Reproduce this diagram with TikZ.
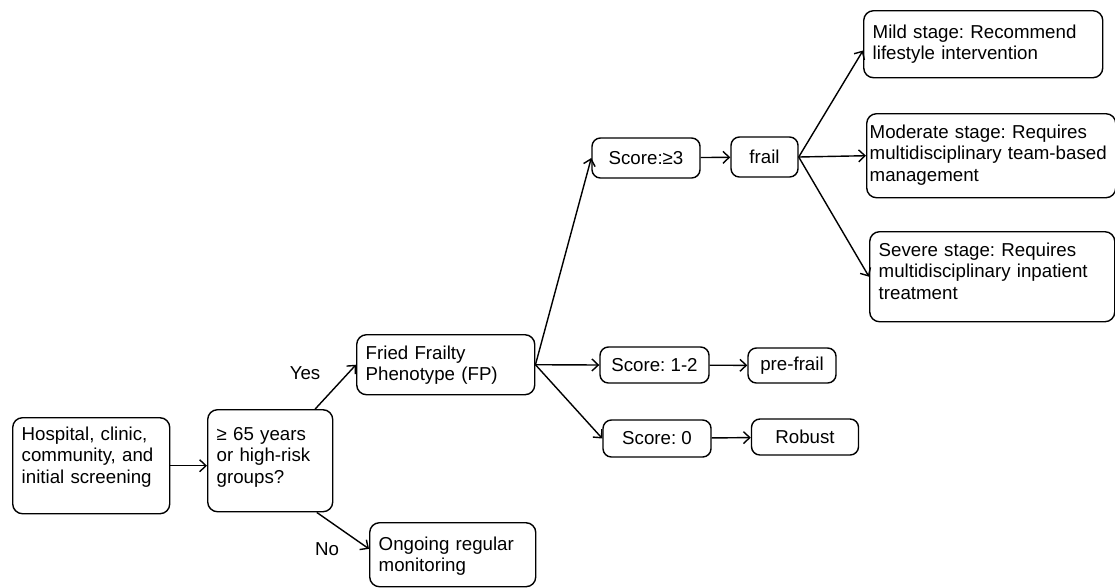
\documentclass[tikz,border=0pt]{standalone}
\usepackage{fontspec}
\setmainfont{Liberation Sans}
\usetikzlibrary{arrows.meta}
\frenchspacing
\begin{document}
\begin{tikzpicture}[x=0.025cm, y=-0.025cm, line width=1pt, >={Straight Barb[length=4.5pt,width=8.5pt]}, font=\fontsize{13.3pt}{15.4pt}\selectfont,
text box/.style={draw, rounded corners=7pt, anchor=north west, align=left, inner xsep=0.225cm, inner ysep=0pt},
score box/.style={draw, rounded corners=6pt, inner sep=0pt}]%
\useasboundingbox (0,0) rectangle (1115,587);
\begin{scope}
\node[text box, text width=3.475cm, text height=0.5625cm, text depth=1.8375cm] (screen) at (12,417) {Hospital, clinic,\\community, and\\initial screening};
\node[text box, text width=2.675cm, text height=0.7625cm, text depth=1.7875cm] (age) at (207,409) {≥ 65 years\\or high-risk\\groups?};
\node[text box, text width=4.0cm, text height=0.6125cm, text depth=0.8875cm] (fp) at (356,334) {Fried Frailty\\Phenotype (FP)};
\node[text box, text width=3.7cm, text height=0.6875cm, text depth=0.9125cm] (mon) at (369,522) {Ongoing regular\\monitoring};
\node[score box, minimum width=2.7cm, minimum height=1cm] (s3) at (646,158) {Score:≥3};
\node[score box, minimum width=1.675cm, minimum height=1cm] (frail) at (764.5,157) {frail};
\node[score box, minimum width=2.725cm, minimum height=0.9cm] (s12) at (654.5,365) {Score: 1-2};
\node[score box, minimum width=2.2cm, minimum height=0.875cm] (pre) at (792,365.5) {pre-frail};
\node[score box, minimum width=2.7cm, minimum height=0.925cm] (s0) at (657,438.5) {Score: 0};
\node[score box, minimum width=2.675cm, minimum height=0.9cm] (rob) at (805,437) {Robust};
\node[text box, text width=5.525cm, text height=0.6875cm, text depth=0.9875cm] (mild) at (863,10) {Mild stage: Recommend\\lifestyle intervention};
\node[text box, inner xsep=0.075cm, text width=6.075cm, text height=0.6125cm, text depth=1.4875cm] (mod) at (866,113) {Moderate stage: Requires\\multidisciplinary team-based\\management};
\node[text box, text width=5.675cm, text height=0.6125cm, text depth=1.6375cm] (sev) at (869,231) {Severe stage: Requires\\multidisciplinary inpatient\\treatment};
\node (yes) at (305,373) {Yes};
\node (no) at (327,549) {No};
\end{scope}
\begin{scope}[every edge/.style={draw,->}]
\draw (screen.east) edge (screen.east -| age.west);
\draw (age.49) edge (fp.west);
\draw (age.-48) edge (mon.176);
\draw (fp.east) edge (s3.west);
\draw (fp.east) edge (s12.west);
\draw (fp.east) edge (s0.west);
\draw (s3) edge (frail);
\draw (s12) edge (pre);
\draw (s0) edge (rob);
\draw (frail.east) edge (mild.183);
\draw (frail.east) edge (mod.west);
\draw (frail.east) edge (sev.west);
\end{scope}
\end{tikzpicture}
\end{document}
